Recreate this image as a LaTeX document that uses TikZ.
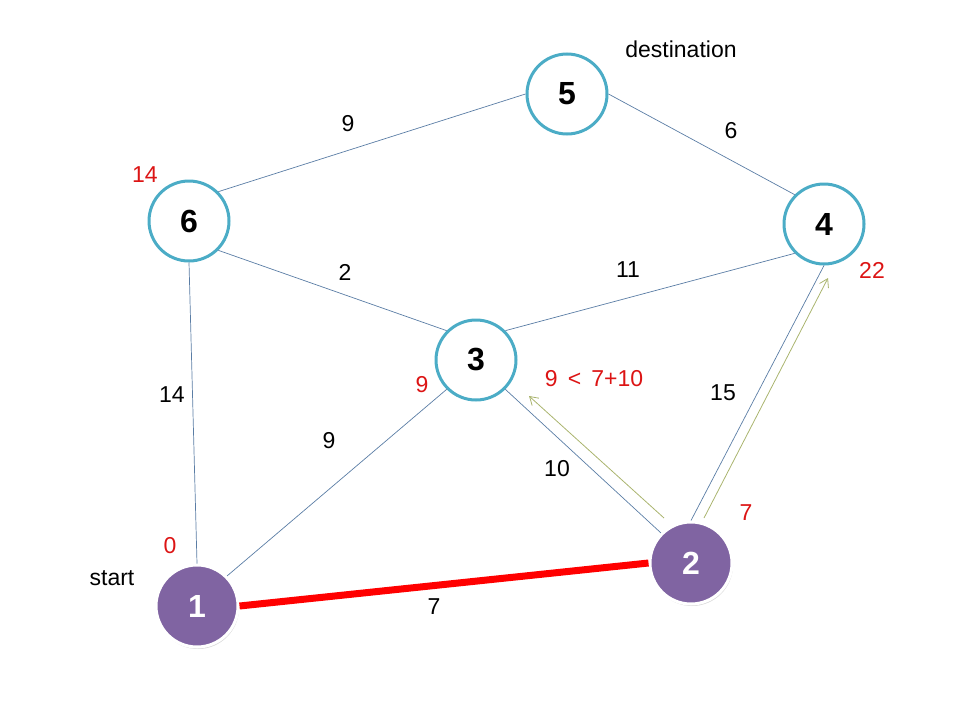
\documentclass[tikz,border=0pt]{standalone}
\usepackage{fontspec}
\setmainfont{Liberation Sans}
\usetikzlibrary{arrows.meta,shadows}
\definecolor{teal}{RGB}{75,172,198}
\definecolor{purp}{RGB}{128,100,162}
\definecolor{edgec}{RGB}{90,125,165}
\definecolor{olive}{RGB}{170,180,110}
\definecolor{redt}{RGB}{220,20,20}
\tikzset{
  vtx/.style={circle,draw=teal,line width=3pt,fill=white,minimum size=80pt,inner sep=0pt,font=\fontsize{32}{36}\selectfont\bfseries},
  pvtx/.style={circle,draw=white,line width=3pt,fill=purp,minimum size=82pt,inner sep=0pt,text=white,font=\fontsize{32}{36}\selectfont\bfseries,drop shadow={shadow xshift=1pt,shadow yshift=-2pt,opacity=0.3}},
  edge/.style={draw=edgec,line width=0.7pt},
  lbl/.style={font=\fontsize{23}{26}\selectfont,inner sep=0pt},
  rlbl/.style={lbl,text=redt},
  arr/.style={draw=olive,line width=0.8pt,-{Straight Barb[length=8pt,width=10pt]}}
}
\begin{document}
\begin{tikzpicture}[x=1pt,y=-1pt]
\useasboundingbox (0,0) rectangle (960,720);
% nodes
\node[vtx] (n5) at (567,94) {5};
\node[vtx] (n6) at (189,221) {6};
\node[vtx] (n4) at (824,224) {4};
\node[vtx] (n3) at (476,360) {3};
\node[pvtx] (n1) at (197,606) {1};
\node[pvtx] (n2) at (691,563) {2};
% edges
\draw[edge] (n6.45) -- (n5.west);
\draw[edge] (n5.east) -- (n4.135);
\draw[edge] (n6.-45) -- (n3.135);
\draw[edge] (n3.45) -- (n4.225);
\draw[edge] (n6.south) -- (n1.north);
\draw[edge] (n1.45) -- (n3.225);
\draw[edge] (n3.-45) -- (n2.135);
\draw[edge] (n2.north) -- (n4.south);
\draw[draw=red,line width=7pt] (n1.east) -- (n2.west);
% arrows
\coordinate (a1s) at (664,518);
\coordinate (a1e) at (529,396);
\coordinate (a2s) at (704,518);
\coordinate (a2e) at (828,278);
\draw[arr] (a1s) -- (a1e);
\draw[arr] (a2s) -- (a2e);
% labels
\node[lbl] (tdest) at (681,49) {destination};
\node[lbl] (t65) at (348,124) {9};
\node[lbl] (t54) at (731,131) {6};
\node[rlbl] (d6) at (145,175) {14};
\node[lbl] (t63) at (345,272) {2};
\node[lbl] (t34) at (628,270) {11};
\node[rlbl] (d4) at (872,270) {22};
\node[lbl] (t61) at (172,395) {14};
\node[rlbl] (d3) at (422,385) {9};
\node[rlbl] (cmp) at (594,379) {9 \,<\, 7+10};
\node[lbl] (t24) at (723,393) {15};
\node[lbl] (t13) at (329,441) {9};
\node[lbl] (t32) at (557,469) {10};
\node[rlbl] (d2) at (746,513) {7};
\node[rlbl] (d1) at (170,546) {0};
\node[lbl] (tstart) at (112,578) {start};
\node[lbl] (t12) at (434,607) {7};
\end{tikzpicture}
\end{document}
